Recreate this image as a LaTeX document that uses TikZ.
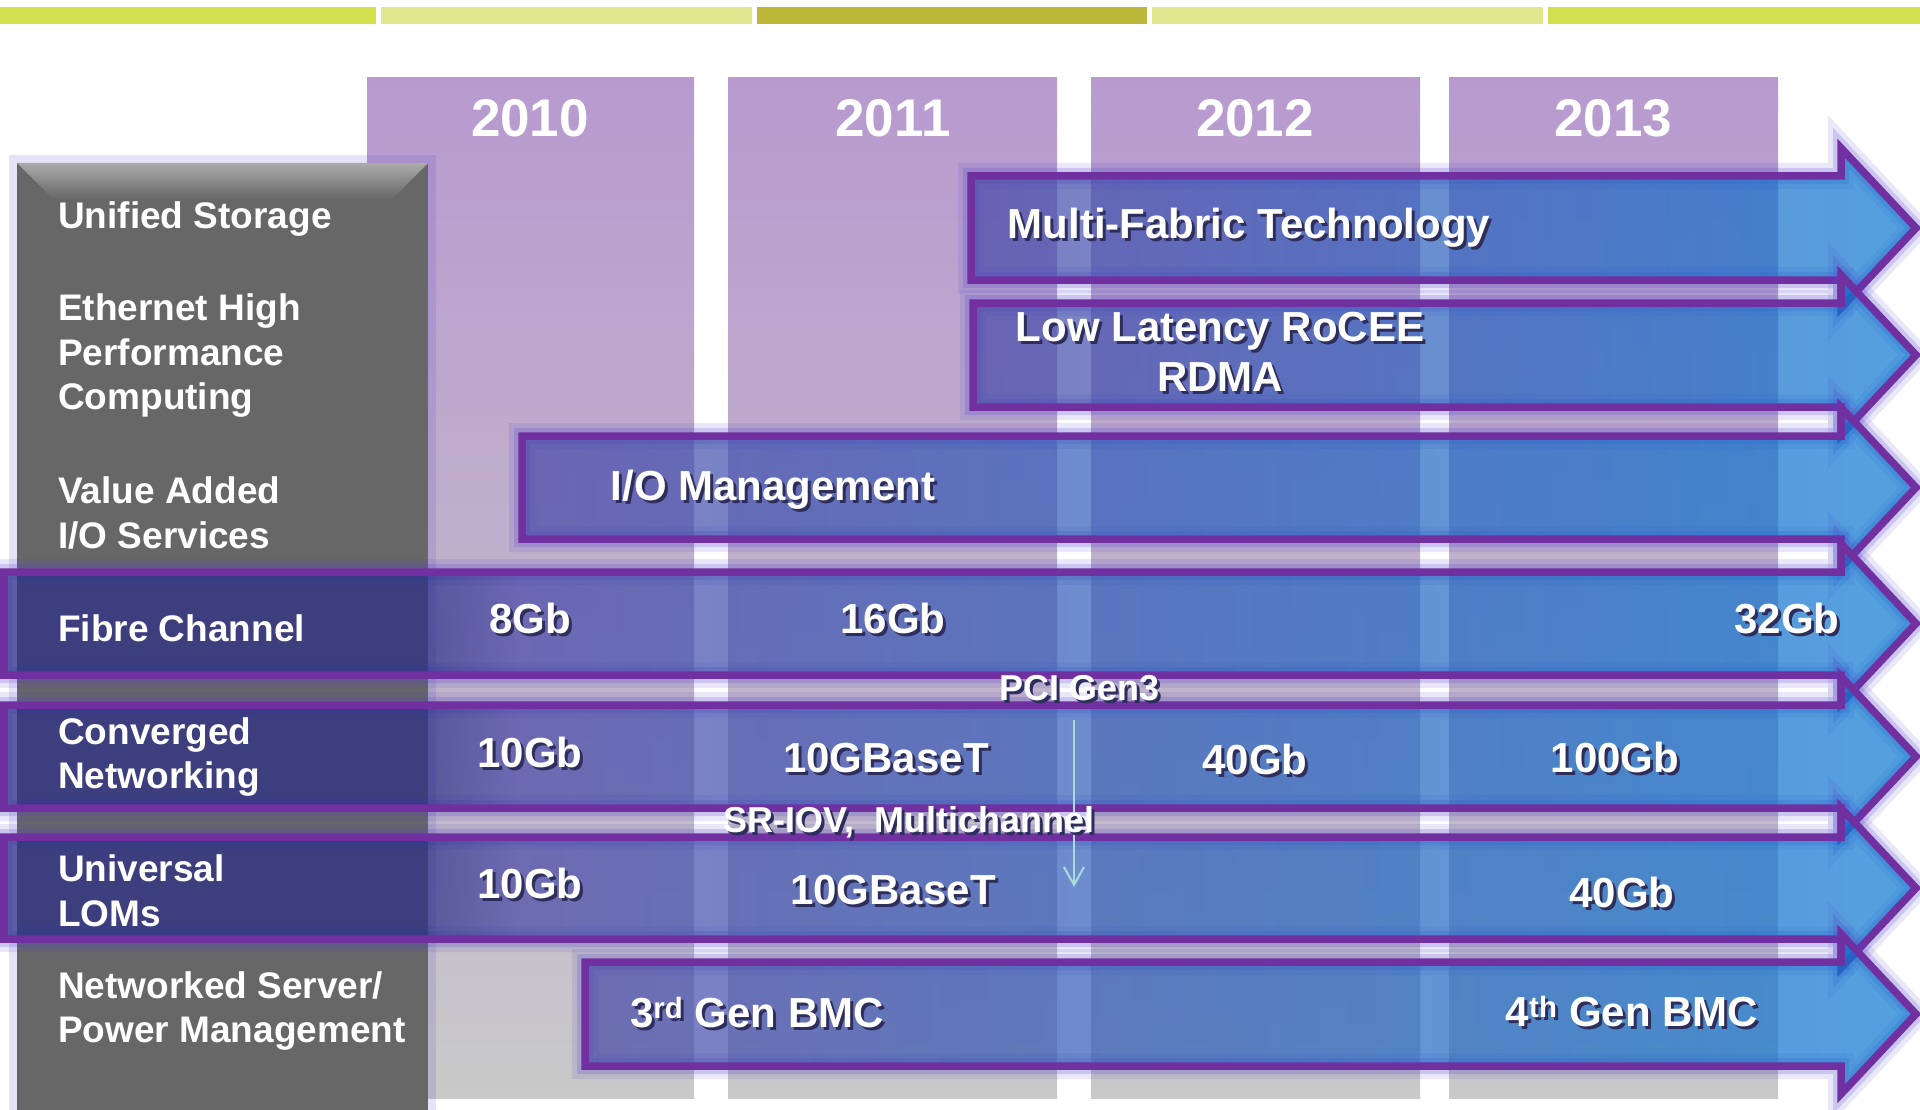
\documentclass[tikz,border=0pt]{standalone}
\usepackage{fontspec}
\setmainfont{Liberation Sans}
\usetikzlibrary{arrows.meta}

\definecolor{barlime}{HTML}{D5DF4F}
\definecolor{barpale}{HTML}{DFE78F}
\definecolor{barolive}{HTML}{BDB73A}
\definecolor{yeartop}{HTML}{B89ACF}
\definecolor{yearmid}{HTML}{B3A8BF}
\definecolor{yearbot}{HTML}{C9C9C9}
\definecolor{panelgray}{HTML}{676767}
\definecolor{bevelgray}{HTML}{ABABAB}
\definecolor{laneedge}{HTML}{7030A0}
\definecolor{laneglow}{HTML}{5040C8}
\definecolor{laneleft}{HTML}{4848A8}
\definecolor{laneright}{HTML}{0A78D2}
\definecolor{lanedark}{HTML}{2A2E88}
\definecolor{pcicyan}{HTML}{A8DCD8}
\definecolor{textshade}{HTML}{2E2E5C}

\pgfdeclarehorizontalshading{lanewide}{100bp}{color(0bp)=(lanedark); color(25bp)=(lanedark); color(36bp)=(lanedark); color(38.5bp)=(laneleft); color(75bp)=(laneright); color(100bp)=(laneright)}

\newcommand{\shadowed}[1]{\leavevmode\rlap{\kern3pt\raisebox{-3pt}{\textcolor{textshade}{#1}}}#1}

\begin{document}
\begin{tikzpicture}[x=1pt, y=-1pt,
    lane/.style={draw=laneedge, line width=7.5pt, line join=miter, shade,
        left color=laneleft, right color=laneright, fill opacity=0.7,
        preaction={draw=laneglow, line width=26pt, draw opacity=0.12},
        preaction={draw=laneglow, line width=16pt, draw opacity=0.2}},
    widelane/.style={lane, shading=lanewide, shading angle=0},
    yearcol/.style={top color=yeartop, middle color=yearmid, bottom color=yearbot}]
\useasboundingbox (0,0) rectangle (1920,1110);

% top bar
\fill[barlime] (0,7) rectangle (376,24);
\fill[barpale] (381,7) rectangle (752,24);
\fill[barolive] (757,7) rectangle (1147,24);
\fill[barpale] (1152,7) rectangle (1543,24);
\fill[barlime] (1548,7) rectangle (1920,24);

% year columns
\shade[yearcol] (367,78) rectangle (694,1098);
\shade[yearcol] (728,78) rectangle (1057,1098);
\shade[yearcol] (1091,78) rectangle (1420,1098);
\shade[yearcol] (1449,78) rectangle (1778,1098);

% left panel
\fill[panelgray, preaction={draw=laneglow, line width=16pt, draw opacity=0.15}] (17,163) rectangle (428,1110);
\shade[top color=bevelgray, bottom color=panelgray] (17,163) -- (428,163) -- (392,199) -- (53,199) -- cycle;

% lanes
\path[lane] (971,176) -- (1841,176) -- (1841,148) -- (1916,228) -- (1841,308) -- (1841,280) -- (971,280) -- cycle;
\path[lane] (973,303) -- (1841,303) -- (1841,275) -- (1916,355) -- (1841,435) -- (1841,407) -- (973,407) -- cycle;
\path[lane] (522,436) -- (1841,436) -- (1841,407.5) -- (1916,487.5) -- (1841,567.5) -- (1841,539) -- (522,539) -- cycle;
\path[widelane] (4,572) -- (1841,572) -- (1841,543.5) -- (1916,623.5) -- (1841,703.5) -- (1841,675) -- (4,675) -- cycle;
\path[widelane] (4,705) -- (1841,705) -- (1841,676.5) -- (1916,756.5) -- (1841,836.5) -- (1841,808) -- (4,808) -- cycle;
\path[widelane] (4,837) -- (1841,837) -- (1841,808) -- (1916,888) -- (1841,968) -- (1841,939) -- (4,939) -- cycle;
\path[lane] (585,962) -- (1841,962) -- (1841,934) -- (1916,1014) -- (1841,1094) -- (1841,1066) -- (585,1066) -- cycle;

% pci arrow
\coordinate (pcifrom) at (1074,720);
\coordinate (pcito) at (1074,887);
\draw[pcicyan, line width=2pt, -{Straight Barb[length=18pt, width=20pt, line width=2pt]}] (pcifrom) -- (pcito);

\begin{scope}[every node/.style={text=white, inner sep=0pt, font=\bfseries\fontsize{53}{60}\selectfont}]
    \node (y10) at (530,118) {2010};
    \node (y11) at (893,118) {2011};
    \node (y12) at (1255,118) {2012};
    \node (y13) at (1613,118) {2013};
\end{scope}

\begin{scope}[every node/.style={text=white, inner sep=0pt, anchor=west, align=left, font=\bfseries\fontsize{37}{44.5}\selectfont}]
    \node (unified) at (58,219) {Unified Storage};
    \node (ethernet) at (58,356) {Ethernet High\\Performance\\Computing};
    \node (valueadd) at (58,513) {Value Added\\I/O Services};
    \node (fibre) at (58,628) {Fibre Channel};
    \node (converged) at (58,757) {Converged\\Networking};
    \node (universal) at (58,891) {Universal\\LOMs};
    \node (netserver) at (58,1011) {Networked Server/\\Power Management};
\end{scope}

\begin{scope}[every node/.style={text=white, inner sep=0pt, align=center, font=\bfseries\fontsize{42}{50}\selectfont}]
    \node (multifab) at (1249,229) {\shadowed{Multi-Fabric Technology}};
    \node (rocee) at (1220,353) {\shadowed{Low Latency RoCEE}\\\shadowed{RDMA}};
    \node (iomgmt) at (773,491) {\shadowed{I/O Management}};
    \node (fc8) at (530,620) {\shadowed{8Gb}};
    \node (fc16) at (893,620) {\shadowed{16Gb}};
    \node (fc32) at (1787,620) {\shadowed{32Gb}};
    \node (cn10) at (530,754) {\shadowed{10Gb}};
    \node (cnbaset) at (886,760) {\shadowed{10GBaseT}};
    \node (cn40) at (1255,761) {\shadowed{40Gb}};
    \node (cn100) at (1615,759) {\shadowed{100Gb}};
    \node (lom10) at (530,885) {\shadowed{10Gb}};
    \node (lombaset) at (893,892) {\shadowed{10GBaseT}};
    \node (lom40) at (1622,894) {\shadowed{40Gb}};
    \node (bmc3) at (757,1014) {\shadowed{3\textsuperscript{rd} Gen BMC}};
    \node (bmc4) at (1632,1013) {\shadowed{4\textsuperscript{th} Gen BMC}};
\end{scope}

\begin{scope}[every node/.style={text=white, inner sep=0pt, font=\bfseries\fontsize{36}{44}\selectfont}]
    \node (pci) at (1080,690) {\shadowed{PCI Gen3}};
    \node (sriov) at (909,824) {\shadowed{SR-IOV,\ \ Multichannel}};
\end{scope}
\end{tikzpicture}
\end{document}
